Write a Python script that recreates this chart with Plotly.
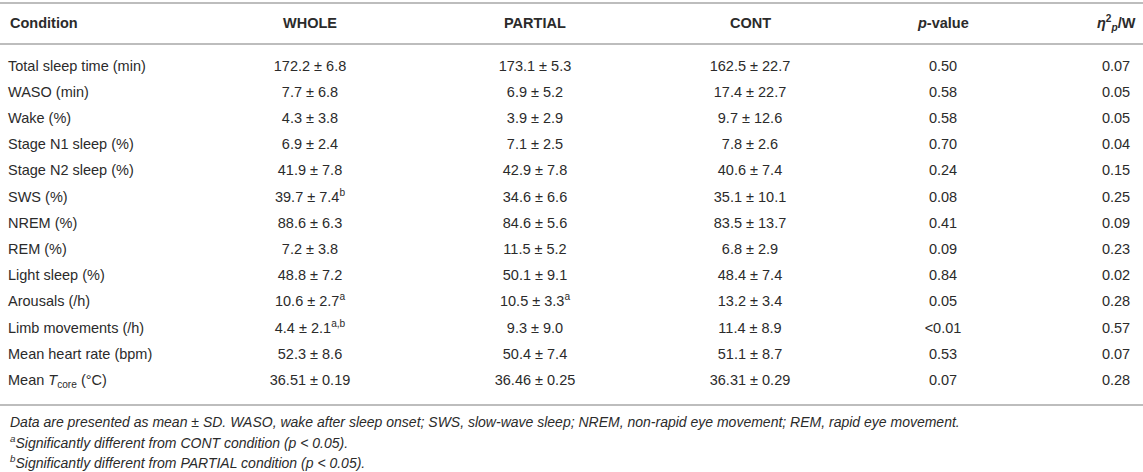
import plotly.graph_objects as go

# ---- table content ----
conditions = [
    "Total sleep time (min)", "WASO (min)", "Wake (%)", "Stage N1 sleep (%)",
    "Stage N2 sleep (%)", "SWS (%)", "NREM (%)", "REM (%)", "Light sleep (%)",
    "Arousals (/h)", "Limb movements (/h)", "Mean heart rate (bpm)",
    "Mean <i>T</i><sub>core</sub> (°C)",
]
whole = [
    "172.2 ± 6.8", "7.7 ± 6.8", "4.3 ± 3.8", "6.9 ± 2.4", "41.9 ± 7.8",
    "39.7 ± 7.4<sup>b</sup>", "88.6 ± 6.3", "7.2 ± 3.8", "48.8 ± 7.2",
    "10.6 ± 2.7<sup>a</sup>", "4.4 ± 2.1<sup>a,b</sup>", "52.3 ± 8.6", "36.51 ± 0.19",
]
partial = [
    "173.1 ± 5.3", "6.9 ± 5.2", "3.9 ± 2.9", "7.1 ± 2.5", "42.9 ± 7.8",
    "34.6 ± 6.6", "84.6 ± 5.6", "11.5 ± 5.2", "50.1 ± 9.1",
    "10.5 ± 3.3<sup>a</sup>", "9.3 ± 9.0", "50.4 ± 7.4", "36.46 ± 0.25",
]
cont = [
    "162.5 ± 22.7", "17.4 ± 22.7", "9.7 ± 12.6", "7.8 ± 2.6", "40.6 ± 7.4",
    "35.1 ± 10.1", "83.5 ± 13.7", "6.8 ± 2.9", "48.4 ± 7.4",
    "13.2 ± 3.4", "11.4 ± 8.9", "51.1 ± 8.7", "36.31 ± 0.29",
]
p_values = ["0.50", "0.58", "0.58", "0.70", "0.24", "0.08", "0.41", "0.09",
            "0.84", "0.05", "&lt;0.01", "0.53", "0.07"]
effect = ["0.07", "0.05", "0.05", "0.04", "0.15", "0.25", "0.09", "0.23",
          "0.02", "0.28", "0.57", "0.07", "0.28"]

headers = ["Condition", "WHOLE", "PARTIAL", "CONT", "<i>p</i>-value",
           "<i>η</i><sup>2</sup><sub><i>p</i></sub>/W"]

footnotes = [
    "Data are presented as mean ± SD. WASO, wake after sleep onset; SWS, slow-wave sleep; "
    "NREM, non-rapid eye movement; REM, rapid eye movement.",
    "<sup>a</sup>Significantly different from CONT condition (p &lt; 0.05).",
    "<sup>b</sup>Significantly different from PARTIAL condition (p &lt; 0.05).",
]

# ---- layout / style ----
W, H = 1143, 472
TEXT = "#2b2b2b"
RULE = "#bdbdbd"
FONT = "Liberation Sans, Arial, sans-serif"
SIZE = 14.5
FOOT_SIZE = 14

col_x = [8, 310, 535, 750, 943, 1116]      # column anchors (px)
row0_px, row_step_px = 67, 26.2            # first body row centre, row pitch
header_px = 23
rules_px = [3, 44, 405]
foot_px = [422, 442, 462]


def px_to_row(px):
    return (px - row0_px) / row_step_px


rows = list(range(len(conditions)))
columns = [conditions, whole, partial, cont, p_values, effect]

fig = go.Figure()

for i, col in enumerate(columns):
    fig.add_trace(go.Scatter(
        x=[col_x[i]] * len(col),
        y=rows,
        mode="text",
        text=col,
        textposition="middle right" if i == 0 else "middle center",
        textfont=dict(family=FONT, size=SIZE, color=TEXT),
        hoverinfo="skip",
        showlegend=False,
    ))

# header row
for i, h in enumerate(headers):
    fig.add_annotation(
        x=col_x[i], y=px_to_row(header_px), xref="x", yref="y",
        text=f"<b>{h}</b>", showarrow=False,
        xanchor="left" if i == 0 else "center", yanchor="middle",
        font=dict(family=FONT, size=SIZE, color=TEXT),
    )

# horizontal rules
for r in rules_px:
    fig.add_shape(
        type="line", xref="paper", yref="y",
        x0=0, x1=1, y0=px_to_row(r), y1=px_to_row(r),
        line=dict(color=RULE, width=2),
    )

# footnotes
for t, fy in zip(footnotes, foot_px):
    fig.add_annotation(
        x=col_x[0], y=px_to_row(fy), xref="x", yref="y",
        text=f"<i>{t}</i>", showarrow=False,
        xanchor="left", yanchor="middle",
        font=dict(family=FONT, size=FOOT_SIZE, color=TEXT),
    )

fig.update_layout(
    width=W, height=H,
    margin=dict(l=0, r=0, t=0, b=0),
    paper_bgcolor="white", plot_bgcolor="white",
    xaxis=dict(range=[0, W], visible=False, fixedrange=True),
    yaxis=dict(range=[px_to_row(H), px_to_row(0)], visible=False, fixedrange=True),
)

# drop the page's default body margin so the table sits at the window's corner
fig.write_html(
    "out.html",
    config={"displayModeBar": False},
    post_script="document.body.style.margin='0';",
)
